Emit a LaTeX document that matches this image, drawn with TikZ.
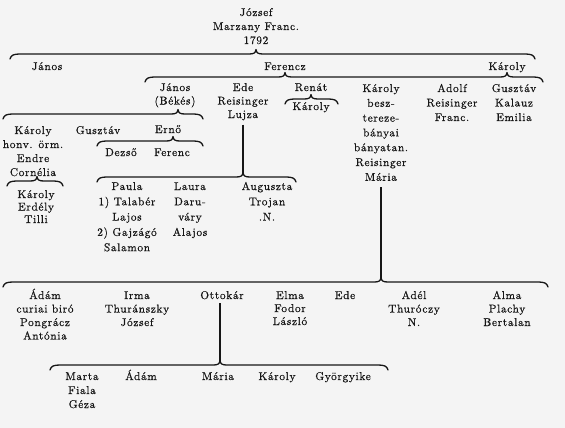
\documentclass[tikz,border=0pt]{standalone}
\usepackage{fontspec}
\setmainfont{lmroman10-regular.otf}[LetterSpace=6, FakeBold=0.6]
\definecolor{bgc}{HTML}{F4F4F4}
\definecolor{ink}{HTML}{161616}
\tikzset{
  txt/.style={inner sep=0pt, anchor=north, align=center, text=ink},
  brc/.style={draw=ink, line width=1.3pt, line cap=round, line join=round},
  vl/.style={draw=ink, line width=1.9pt}
}
\newcommand\nd[5]{\node[txt, font=\fontsize{11.3}{#4}\selectfont] (#1) at (#2,#3-7.2) {\rule{0pt}{11pt}#5};}
\newcommand\brc[4]{%
  \draw[brc] (#1,#3+5) .. controls (#1+1,#3+1) and (#1+4,#3) .. (#1+10,#3)
    \foreach \t in {#4}{ -- (\t-7,#3) .. controls (\t-2,#3) and (\t-0.5,#3-1) .. (\t,#3-4.5)
      .. controls (\t+0.5,#3-1) and (\t+2,#3) .. (\t+7,#3) }
    -- (#2-10,#3) .. controls (#2-4,#3) and (#2-1,#3+1) .. (#2,#3+5);}
\begin{document}
\begin{tikzpicture}[x=1pt,y=-1pt]
\fill[bgc] (0,0) rectangle (565,428);
\useasboundingbox (0,0) rectangle (565,428);
% generation 0
\nd{jozsef}{256}{12}{14}{József\\Marzany Franc.\\1792}
\brc{10}{535}{54}{256}
% generation 1
\nd{janos}{47}{66}{14}{János}
\nd{ferencz}{285}{66}{14}{Ferencz}
\nd{karoly}{507}{66}{14}{Károly}
\brc{145}{543}{77}{285,507}
% generation 2
\nd{janosb}{175}{87}{13.5}{János\\(Békés)}
\nd{ede}{243}{87}{13.5}{Ede\\Reisinger\\Lujza}
\nd{renat}{311}{87}{14}{Renát}
\nd{karolyb}{381}{88}{14.8}{Károly\\besz-\\tereze-\\bányai\\bányatan.\\Reisinger\\Mária}
\nd{adolf}{452}{88}{14.5}{Adolf\\Reisinger\\Franc.}
\nd{gusztav}{514}{88}{14.5}{Gusztáv\\Kalauz\\Emilia}
\brc{285}{338}{99}{311}
\nd{karolyr}{311}{106}{14}{Károly}
% children of János (Békés)
\brc{3}{203}{114}{178}
\nd{karolyh}{33}{130}{14}{Károly\\honv. örm.\\Endre\\Cornélia}
\nd{gusztavj}{98}{130}{14}{Gusztáv}
\nd{erno}{168}{129}{14}{Ernő}
\brc{97}{203}{141}{173}
\nd{dezso}{121}{152}{14}{Dezső}
\nd{ferenc}{172}{152}{14}{Ferenc}
\brc{7}{63}{181}{37}
\nd{karolye}{36}{194}{12.5}{Károly\\Erdély\\Tilli}
% children of Ede
\coordinate (eT) at (243,172.5);
\draw[vl] ([yshift=-4pt]ede.south) -- (ede.south |- eT);
\brc{97}{296}{177}{243}
\nd{paula}{127}{186}{15.3}{Paula\\1) Talabér\\Lajos\\2) Gajzágó\\Salamon}
\nd{laura}{190}{186}{15.3}{Laura\\Daru-\\váry\\Alajos}
\nd{auguszta}{267}{186}{15.3}{Auguszta\\Trojan\\.N.}
% children of Károly
\coordinate (kT) at (381,277.5);
\draw[vl] ([yshift=-6pt]karolyb.south) -- (karolyb.south |- kT);
\brc{3}{548}{282}{381}
\nd{adam}{45}{295}{13.5}{Ádám\\curiai biró\\Pongrácz\\Antónia}
\nd{irma}{137}{295}{13.5}{Irma\\Thuránszky\\József}
\nd{ottokar}{222}{295}{13.5}{Ottokár}
\nd{elma}{290}{295}{13}{Elma\\Fodor\\László}
\nd{edeb}{345}{295}{13.5}{Ede}
\nd{adel}{414}{295}{13.5}{Adél\\Thuróczy\\N.}
\nd{alma}{507}{295}{13.5}{Alma\\Plachy\\Bertalan}
% children of Ottokár
\coordinate (oT) at (220,360.5);
\draw[vl] ([yshift=-4pt]ottokar.south -| 220,0) -- (oT);
\brc{50}{388}{365}{220}
\nd{marta}{82}{376}{14}{Marta\\Fiala\\Géza}
\nd{adamb}{141}{376}{14}{Ádám}
\nd{maria}{218}{376}{14}{Mária}
\nd{karolyo}{277}{376}{14}{Károly}
\nd{gyorgyike}{343}{376}{14}{Györgyike}
\end{tikzpicture}
\end{document}
